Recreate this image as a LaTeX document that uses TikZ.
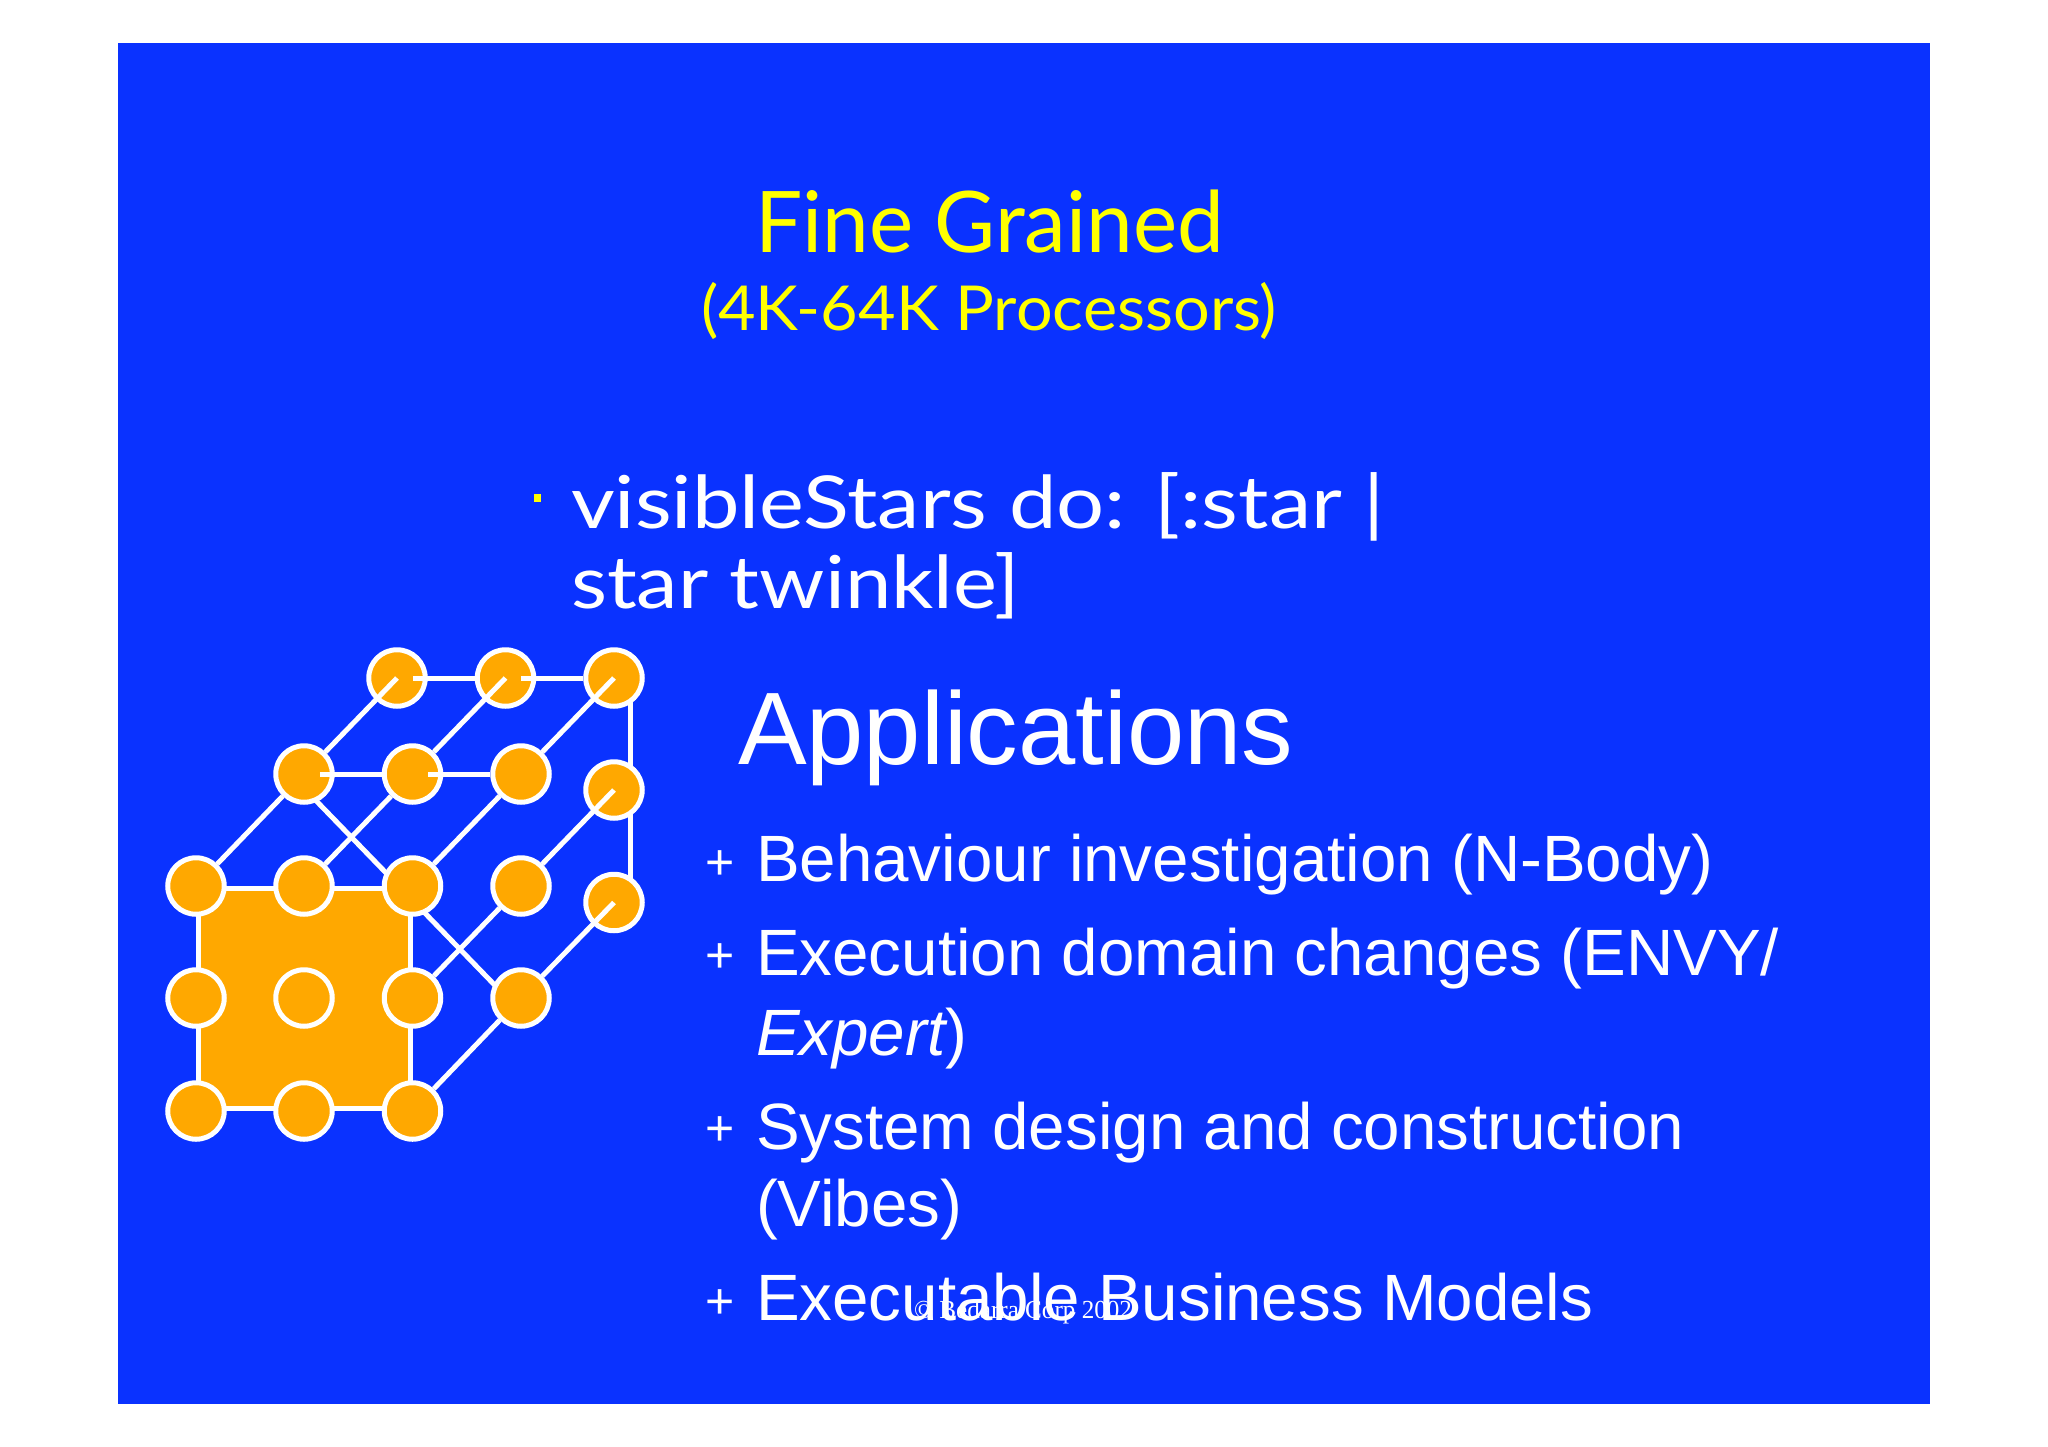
\documentclass[tikz,border=0pt]{standalone}
\usepackage{fontspec}
\setmainfont{Liberation Sans}
\newfontfamily\handfont{Lato}
\newfontfamily\footfont{Liberation Serif}
\usetikzlibrary{calc,backgrounds}
\definecolor{slideblue}{RGB}{10,50,255}
\definecolor{nodeorange}{RGB}{255,168,0}
\definecolor{titleyellow}{RGB}{255,255,0}
\newcommand{\fitw}[2]{\resizebox{#1pt}{\height}{#2}}
\newcommand{\fs}[1]{\fontsize{#1pt}{#1pt}\selectfont}
\tikzset{
  ball/.style={circle,draw=white,fill=nodeorange,line width=5pt,minimum size=56.5pt,inner sep=0pt},
  edge/.style={draw=white,line width=5pt},
  txt/.style={anchor=base west,inner sep=0pt,outer sep=0pt,text=white},
  hand/.style={txt,font=\handfont},
  head/.style={hand,text=titleyellow},
  body/.style={txt,font=\fs{65.5}},
  plus/.style={txt,font=\fs{50}},
}
\begin{document}
\begin{tikzpicture}[x=1pt,y=-1pt]
\useasboundingbox (0,0) rectangle (2048,1447);
% nodes
\foreach \n/\x/\y in {
  t1/397/678, t2/505.5/678, t3/614/678,
  m1/304/774, m2/412.5/774, m3/521/774,
  r1/614/790, r2/614/902.5,
  f1/196/886, f2/304/886, f3/412.5/886, b1/521/886,
  f4/196/998, f5/304/998, f6/412.5/998, b2/521/998,
  f7/196/1111, f8/304/1111, f9/412.5/1111}
  \node[ball] (\n) at (\x,\y) {};
\begin{pgfonlayer}{background}
  \fill[slideblue] (118,43) rectangle (1930,1404);
  \draw[edge,fill=nodeorange] ($(f1.center)+(2,2)$) rectangle ($(f9.center)+(-2,-3)$);
  \draw[edge] ($(t3.center)+(16,0)$) -- ($(r2.center)+(16,0)$);
  \draw[edge] ($(m1.center)+(-7,7)$) -- ($(f3.center)+(-7,7)$);
  \draw[edge] ($(f3.center)+(-7,7)$) -- ($(b2.center)+(-7,7)$);
\end{pgfonlayer}
% connectors
\draw[edge,shorten <=-15pt] (t1) -- (t2);
\draw[edge,shorten <=-15pt] (t2) -- (t3);
\draw[edge,shorten <=-15pt] (m1) -- (m2);
\draw[edge,shorten <=-15pt] (m2) -- (m3);
\draw[edge] (t1.center) -- (m1);
\draw[edge] (t2.center) -- (m2);
\draw[edge] (t3.center) -- (m3);
\draw[edge] (m1) -- (f1);
\draw[edge] (m2) -- (f2);
\draw[edge] (m3) -- (f3);
\draw[edge] (r1.center) -- (b1);
\draw[edge] (b1) -- (f6);
\draw[edge] (r2.center) -- (b2);
\draw[edge] (b2) -- (f9);
% heading
\node[head] (title) at (755,253) {\fitw{469}{\fs{85}Fine Grained}};
\node[head] (subtitle) at (701,330) {\fitw{576}{\fs{62}(4K-64K Processors)}};
\fill[titleyellow] (534,494) rectangle (541,502);
\node[hand] (code1) at (571,528) {\fitw{814}{\fs{73}visibleStars do: [:star |}};
\node[hand] (code2) at (571,608) {\fitw{449}{\fs{73}star twinkle]}};
% applications
\node[txt,font=\fs{103}] (apps) at (738,764) {Applications};
\node[plus] (p1) at (705,879) {+};
\node[plus] (p2) at (705,972) {+};
\node[plus] (p3) at (705,1145) {+};
\node[plus] (p4) at (705,1318) {+};
\node[body] (l1) at (756,881) {Behaviour investigation (N-Body)};
\node[body] (l2) at (756,975) {Execution domain changes (ENVY/};
\node[body] (l3) at (756,1055) {\itshape Expert\upshape)};
\node[body] (l4) at (756,1149) {System design and construction};
\node[body] (l5) at (756,1226) {(Vibes)};
\node[body] (l6) at (756,1320) {Executable Business Models};
\node[txt,font=\footfont] (foot) at (914,1318) {\fitw{218}{\fs{26}© Bedarra Corp 2002}};
\end{tikzpicture}
\end{document}
